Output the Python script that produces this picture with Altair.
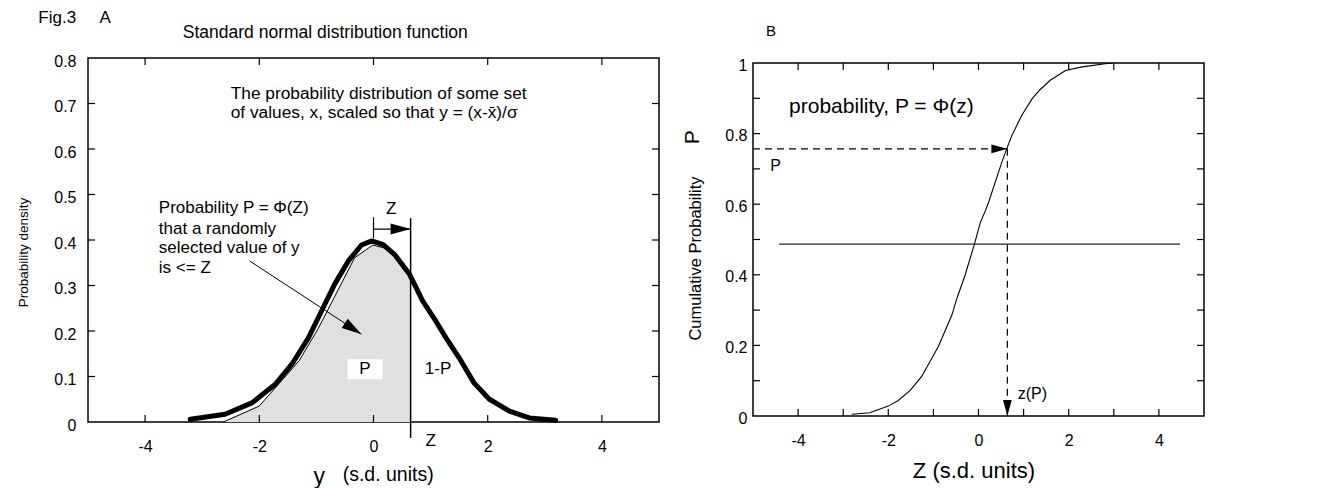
import altair as alt
import pandas as pd

FONT = "Liberation Sans"

# ---------------- Panel A data ----------------
a_x_labels = [-4, -2, 0, 2, 4]
a_y_labels = [0, 0.1, 0.2, 0.3, 0.4, 0.5, 0.6, 0.7, 0.8]
a_y_ticks = [0.1, 0.2, 0.3, 0.4, 0.5, 0.6, 0.7]

# thick density curve
a_curve_x = [-3.21, -2.6, -2.13, -1.72, -1.43, -1.14, -0.91, -0.68, -0.44, -0.21, -0.03,
             0.17, 0.37, 0.63, 0.86, 1.09, 1.27, 1.50, 1.76, 2.03, 2.38, 2.73, 3.19]
a_curve_y = [0.006, 0.017, 0.042, 0.083, 0.127, 0.185, 0.244, 0.303, 0.354, 0.389, 0.398,
             0.390, 0.368, 0.325, 0.266, 0.222, 0.185, 0.141, 0.086, 0.050, 0.024, 0.009, 0.004]
# thin outline of shaded area P
a_fill_x = [-2.63, -2.0, -1.65, -1.3, -0.97, -0.56, -0.33, -0.01, 0.2, 0.49, 0.65]
a_fill_y = [0.0, 0.035, 0.085, 0.135, 0.205, 0.305, 0.361, 0.389, 0.382, 0.35, 0.322]

z_value = 0.65

# ---------------- Panel B data ----------------
b_x_labels = [-4, -2, 0, 2, 4]
b_x_ticks = [-4, -3, -2, -1, 0, 1, 2, 3, 4]
b_y_labels = [0, 0.2, 0.4, 0.6, 0.8, 1]
b_y_ticks = [0.1, 0.2, 0.3, 0.4, 0.5, 0.6, 0.7, 0.8, 0.9]

b_z = [-2.81, -2.41, -2.0, -1.78, -1.52, -1.26, -0.89, -0.59, -0.48, -0.30, -0.09, 0.04,
       0.15, 0.22, 0.52, 0.63, 0.74, 0.96, 1.19, 1.37, 1.59, 1.93, 2.30, 2.81, 2.96]
b_p = [0.005, 0.009, 0.028, 0.044, 0.072, 0.112, 0.197, 0.286, 0.333, 0.398, 0.487, 0.548,
       0.581, 0.604, 0.720, 0.758, 0.795, 0.852, 0.899, 0.925, 0.951, 0.979, 0.989, 0.998, 1.0]

p_level = 0.757
z_of_p = 0.64
half_p = 0.487
half_from, half_to = -4.42, 4.47

# ---------------- geometry / style ----------------
WA, HA = 571, 364
WB, HB = 451, 353
B_DROP = 5
TICK = 7
ARROW = "M0,0 L-2,-0.55 L-2,0.55 Z"
MINUS_FIX = "replace(datum.label, '\u2212', '-')"

sxA = alt.Scale(domain=[-5, 5], nice=False, zero=False)
syA = alt.Scale(domain=[0, 0.8], nice=False, zero=False)
sxB = alt.Scale(domain=[-5, 5], nice=False, zero=False)
syB = alt.Scale(domain=[0, 1], nice=False, zero=False)

axA_x = alt.Axis(values=a_x_labels, ticks=False, domain=False, grid=False, labelPadding=16,
                 labelFontSize=16, labelFont=FONT, labelColor="black", title=None,
                 labelExpr=MINUS_FIX)
axA_y = alt.Axis(values=a_y_labels, format=".1~f", ticks=False, domain=False, grid=False,
                 labelPadding=12, labelFontSize=16, labelFont=FONT, labelColor="black",
                 labelOffset=3,
                 title="Probability density", titleFont=FONT, titleFontSize=13.5,
                 titleFontWeight="normal", titleColor="black", titleX=-58, titleY=194)
axB_x = alt.Axis(values=b_x_labels, ticks=False, domain=False, grid=False, labelPadding=16,
                 labelFontSize=16, labelFont=FONT, labelColor="black", title=None,
                 labelExpr=MINUS_FIX)
axB_y = alt.Axis(values=b_y_labels, format=".1~f", ticks=False, domain=False, grid=False,
                 labelPadding=6, labelFontSize=16, labelFont=FONT, labelColor="black",
                 labelOffset=2,
                 title="Cumulative Probability", titleFont=FONT, titleFontSize=16.5,
                 titleFontWeight="normal", titleColor="black", titleX=-50, titleY=195)


def XA(f="x"):
    return alt.X(f"{f}:Q", scale=sxA, axis=axA_x)


def YA(f="y"):
    return alt.Y(f"{f}:Q", scale=syA, axis=axA_y)


def XB(f="x"):
    return alt.X(f"{f}:Q", scale=sxB, axis=axB_x)


def YB(f="y"):
    return alt.Y(f"{f}:Q", scale=syB, axis=axB_y)


def df(**kw):
    return pd.DataFrame(kw)


def text_layer(data, X, Y, size, align="left", angle=0, weight="normal"):
    return alt.Chart(data).mark_text(font=FONT, fontSize=size, align=align, baseline="middle",
                                     color="black", angle=angle, fontWeight=weight).encode(
        x=X(), y=Y(), text="t:N")


FRAME = alt.ViewBackground(stroke="black", strokeWidth=1.5)

# ---------------- Panel A ----------------
A_layers = []
A_layers.append(alt.Chart(df(x=a_fill_x, y=a_fill_y)).mark_area(color="#e0e0e0").encode(x=XA(), y=YA()))
A_layers.append(alt.Chart(df(x=a_fill_x, y=a_fill_y)).mark_line(color="black", strokeWidth=1).encode(x=XA(), y=YA()))
# white box behind "P"
A_layers.append(alt.Chart(df(x=[-0.455], x2=[0.158], y=[0.094], y2=[0.138])).mark_rect(color="white").encode(
    x=XA(), x2="x2:Q", y=YA(), y2="y2:Q"))
A_layers.append(alt.Chart(df(x=a_curve_x, y=a_curve_y)).mark_line(
    color="black", strokeWidth=5, strokeJoin="round", strokeCap="round").encode(x=XA(), y=YA()))
# Z vertical line
A_layers.append(alt.Chart(df(x=[z_value], y=[-0.035], y2=[0.448])).mark_rule(color="black", strokeWidth=1.5).encode(
    x=XA(), y=YA(), y2="y2:Q"))
# small arrow 0 -> Z
A_layers.append(alt.Chart(df(x=[0], x2=[z_value], y=[0.424])).mark_rule(color="black", strokeWidth=1.2).encode(
    x=XA(), x2="x2:Q", y=YA()))
A_layers.append(alt.Chart(df(x=[0], y=[0.404], y2=[0.45])).mark_rule(color="black", strokeWidth=1.2).encode(
    x=XA(), y=YA(), y2="y2:Q"))
A_layers.append(alt.Chart(df(x=[z_value], y=[0.424])).mark_point(
    shape=ARROW, filled=True, size=400, color="black", opacity=1, strokeWidth=0).encode(x=XA(), y=YA()))
# diagonal arrow
A_layers.append(alt.Chart(df(x=[-2.17], x2=[-0.21], y=[0.354], y2=[0.193])).mark_rule(color="black", strokeWidth=1).encode(
    x=XA(), x2="x2:Q", y=YA(), y2="y2:Q"))
A_layers.append(alt.Chart(df(x=[-0.21], y=[0.193])).mark_point(
    shape=ARROW, filled=True, size=400, angle=33, color="black", opacity=1, strokeWidth=0).encode(x=XA(), y=YA()))
# inward ticks
A_layers.append(alt.Chart(df(x=a_x_labels)).mark_rule(color="black", strokeWidth=1.2).encode(
    x=XA(), y=alt.value(HA), y2=alt.value(HA - TICK)))
A_layers.append(alt.Chart(df(x=a_x_labels)).mark_rule(color="black", strokeWidth=1.2).encode(
    x=XA(), y=alt.value(0), y2=alt.value(TICK)))
A_layers.append(alt.Chart(df(y=a_y_ticks)).mark_rule(color="black", strokeWidth=1.2).encode(
    y=YA(), x=alt.value(0), x2=alt.value(TICK)))
A_layers.append(alt.Chart(df(y=a_y_ticks)).mark_rule(color="black", strokeWidth=1.2).encode(
    y=YA(), x=alt.value(WA), x2=alt.value(WA - TICK)))
# texts
A_layers.append(text_layer(df(x=[-5.87], y=[0.887], t=["Fig.3"]), XA, YA, 17))
A_layers.append(text_layer(df(x=[-4.8], y=[0.887], t=["A"]), XA, YA, 17))
A_layers.append(text_layer(df(x=[-3.34], y=[0.855], t=["Standard normal distribution function"]), XA, YA, 17.5))
A_layers.append(text_layer(df(x=[-2.5, -2.5], y=[0.721, 0.679],
                              t=["The probability distribution of some set",
                                 "of values, x, scaled so that y = (x-x\u0304)/\u03c3"]), XA, YA, 17.3))
A_layers.append(text_layer(df(x=[-3.76] * 4, y=[0.470, 0.424, 0.382, 0.338],
                              t=["Probability P = \u03a6(Z)", "that a randomly",
                                 "selected value of y", "is <= Z"]), XA, YA, 17))
A_layers.append(text_layer(df(x=[0.31, -0.15, 1.13, 1.0], y=[0.468, 0.116, 0.116, -0.042],
                              t=["Z", "P", "1-P", "Z"]), XA, YA, 17, align="center"))
A_layers.append(text_layer(df(x=[-0.95], y=[-0.12], t=["y"]), XA, YA, 23, align="center"))
A_layers.append(text_layer(df(x=[-0.54], y=[-0.117], t=["(s.d. units)"]), XA, YA, 19.5))

panelA = alt.layer(*A_layers).properties(width=WA, height=HA, view=FRAME)

# ---------------- Panel B ----------------
B_layers = []
B_layers.append(alt.Chart(df(x=[half_from], x2=[half_to], y=[half_p])).mark_rule(color="#222222", strokeWidth=1.2).encode(
    x=XB(), x2="x2:Q", y=YB()))
B_layers.append(alt.Chart(df(x=b_z, y=b_p)).mark_line(color="black", strokeWidth=1.1).encode(x=XB(), y=YB()))
B_layers.append(alt.Chart(df(x=[-5], x2=[z_of_p], y=[p_level])).mark_rule(
    color="black", strokeWidth=1.2, strokeDash=[7, 5]).encode(x=XB(), x2="x2:Q", y=YB()))
B_layers.append(alt.Chart(df(x=[z_of_p], y=[p_level], y2=[0])).mark_rule(
    color="black", strokeWidth=1.2, strokeDash=[7, 5]).encode(x=XB(), y=YB(), y2="y2:Q"))
B_layers.append(alt.Chart(df(x=[z_of_p], y=[p_level])).mark_point(
    shape=ARROW, filled=True, size=256, color="black", opacity=1, strokeWidth=0).encode(x=XB(), y=YB()))
B_layers.append(alt.Chart(df(x=[z_of_p], y=[0])).mark_point(
    shape=ARROW, filled=True, size=256, angle=90, color="black", opacity=1, strokeWidth=0).encode(x=XB(), y=YB()))
# inward ticks
B_layers.append(alt.Chart(df(x=b_x_ticks)).mark_rule(color="black", strokeWidth=1.2).encode(
    x=XB(), y=alt.value(HB), y2=alt.value(HB - TICK)))
B_layers.append(alt.Chart(df(x=b_x_ticks)).mark_rule(color="black", strokeWidth=1.2).encode(
    x=XB(), y=alt.value(0), y2=alt.value(TICK)))
B_layers.append(alt.Chart(df(y=b_y_ticks)).mark_rule(color="black", strokeWidth=1.2).encode(
    y=YB(), x=alt.value(0), x2=alt.value(TICK)))
B_layers.append(alt.Chart(df(y=b_y_ticks)).mark_rule(color="black", strokeWidth=1.2).encode(
    y=YB(), x=alt.value(WB), x2=alt.value(WB - TICK)))
# texts
B_layers.append(text_layer(df(x=[-4.6], y=[1.09], t=["B"]), XB, YB, 15, align="center"))
B_layers.append(text_layer(df(x=[-4.2], y=[0.875], t=["probability, P = \u03a6(z)"]), XB, YB, 21))
B_layers.append(text_layer(df(x=[-4.62], y=[0.708], t=["P"]), XB, YB, 16))
B_layers.append(text_layer(df(x=[0.87], y=[0.063], t=["z(P)"]), XB, YB, 16))
B_layers.append(text_layer(df(x=[-0.1], y=[-0.155], t=["Z (s.d. units)"]), XB, YB, 22, align="center"))
B_layers.append(text_layer(df(x=[-6.33], y=[0.79], t=["P"]), XB, YB, 21, align="center", angle=270))

panelB = alt.layer(*B_layers).properties(width=WB, height=HB, view=FRAME)

spacer = alt.Chart(df(x=[0])).mark_point(opacity=0).encode(
    x=alt.X("x:Q", axis=None)).properties(width=WB, height=B_DROP,
                                          view=alt.ViewBackground(stroke="transparent"))

colB = alt.vconcat(spacer, panelB, spacing=0, bounds="flush")

chart = alt.hconcat(panelA, colB, spacing=94, bounds="flush").properties(
    padding={"left": 7, "top": 0, "right": 0, "bottom": 0}
).configure(font=FONT).configure_view(stroke=None)

chart.save("out.html", embed_options={"renderer": "svg", "actions": False})
